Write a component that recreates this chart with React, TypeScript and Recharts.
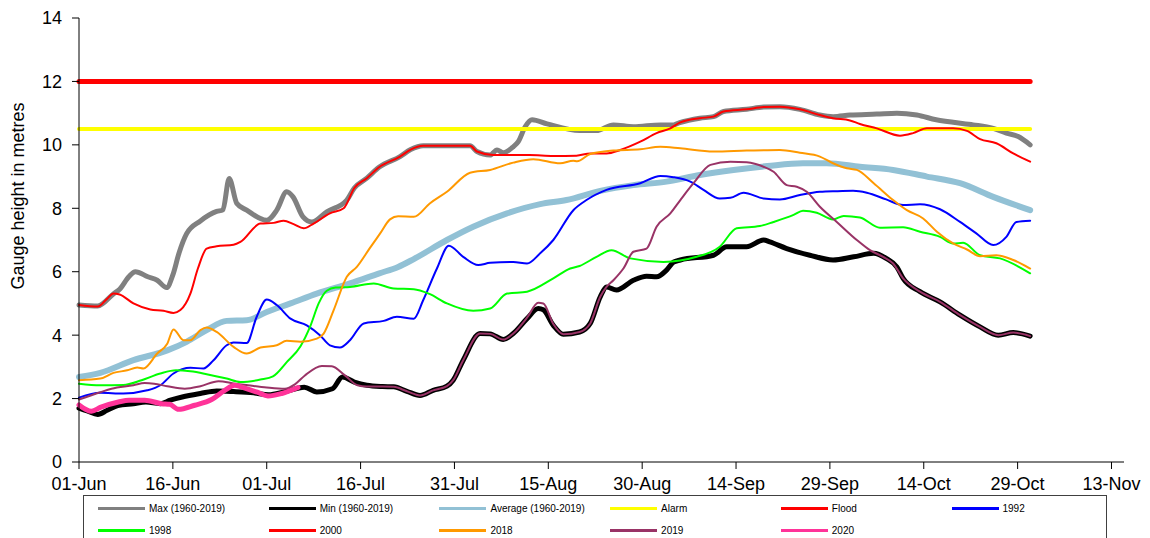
import React from 'react';
import { LineChart, Line, XAxis, YAxis } from 'recharts';

// day 0 = 01-Jun
const tickDays = [0, 15, 30, 45, 60, 75, 90, 105, 120, 135, 150, 165];
const tickLabels = ['01-Jun', '16-Jun', '01-Jul', '16-Jul', '31-Jul', '15-Aug', '30-Aug', '14-Sep', '29-Sep', '14-Oct', '29-Oct', '13-Nov'];
const yTicks = [0, 2, 4, 6, 8, 10, 12, 14];

const maxSeries: [number, number][] = [
  [0, 4.95], [3, 4.92], [5.5, 5.3], [6.5, 5.45], [8, 5.85], [9, 6.0], [11, 5.84], [12.5, 5.73], [14, 5.5], [15, 5.9],
  [16, 6.6], [17.2, 7.2], [19.4, 7.6], [22, 7.9], [23, 7.95], [24, 8.94], [25.2, 8.16], [26.8, 7.94], [30, 7.62],
  [31.6, 7.94], [33.2, 8.52], [34.2, 8.36], [35.8, 7.73], [37.2, 7.57], [39.6, 7.89], [42.8, 8.26], [44, 8.64],
  [46, 8.95], [48, 9.3], [51.3, 9.63], [53, 9.85], [55, 9.97], [62.5, 9.97], [63.6, 9.79], [65.7, 9.68], [66.8, 9.84],
  [67.8, 9.75], [69.4, 9.94], [70.2, 10.1], [71.3, 10.57], [72.4, 10.79], [74.8, 10.66], [80, 10.45], [82.7, 10.45],
  [85.4, 10.63], [88.6, 10.57], [92.9, 10.63], [95, 10.63], [96, 10.7], [99.2, 10.84], [101.4, 10.89], [103, 11.05],
  [106.7, 11.12], [109.4, 11.19], [112, 11.2], [115.2, 11.12], [118.4, 10.94], [120.5, 10.89], [123.2, 10.94],
  [127.5, 10.97], [130.7, 11.0], [133.9, 10.94], [137, 10.79], [139.7, 10.71], [142.9, 10.63], [146.1, 10.52],
  [148.2, 10.37], [150.1, 10.26], [152, 10.0],
];

const minSeries: [number, number][] = [
  [0, 1.7], [1.3, 1.61], [3, 1.5], [4.5, 1.63], [6.2, 1.78], [8.7, 1.84], [10.7, 1.89], [13, 1.84], [14.6, 1.95],
  [16.5, 2.05], [19.4, 2.16], [22, 2.24], [24.7, 2.22], [27.9, 2.18], [30.3, 2.12], [32.8, 2.21], [36, 2.36], [38, 2.21],
  [40.5, 2.31], [42.1, 2.68], [44, 2.52], [46, 2.42], [48.5, 2.38], [50.3, 2.37], [52.4, 2.23], [54.5, 2.1], [56.6, 2.26],
  [58.8, 2.39], [59.8, 2.58], [61.4, 3.21], [64.1, 4.05], [65.7, 4.04], [67.8, 3.86], [69.4, 4.05], [71.6, 4.52],
  [73.4, 4.84], [74.2, 4.8], [75.8, 4.31], [77.4, 4.03], [80, 4.1], [81.7, 4.37], [83.3, 5.21], [84.3, 5.52], [85.9, 5.42],
  [88.6, 5.73], [90.7, 5.86], [92.3, 5.84], [93.9, 6.05], [95, 6.3], [96.1, 6.37], [101.4, 6.52], [103.5, 6.79],
  [106.7, 6.79], [109.4, 7.0], [110.4, 6.94], [113.1, 6.73], [116.8, 6.52], [120.5, 6.37], [123.8, 6.47], [127, 6.58],
  [129, 6.42], [130.7, 6.15], [131.7, 5.79], [134.4, 5.37], [137.6, 5.05], [140.8, 4.63], [144, 4.26], [146.9, 4.0],
  [149.3, 4.08], [152, 3.97],
];

const averageSeries: [number, number][] = [
  [0, 2.68], [3.4, 2.81], [8.7, 3.21], [14.1, 3.52], [17.2, 3.79], [20.4, 4.16], [23.6, 4.45], [26.8, 4.47], [30, 4.73],
  [33.8, 5.0], [38, 5.31], [43.3, 5.63], [48, 5.95], [51, 6.15], [53.5, 6.4], [58.8, 7.0], [63, 7.42], [68.4, 7.84],
  [73.7, 8.13], [77.9, 8.26], [83.3, 8.55], [88.6, 8.73], [93.9, 8.84], [99.2, 9.05], [104.6, 9.21], [110, 9.33],
  [115.7, 9.42], [119.5, 9.42], [124.8, 9.31], [130.1, 9.21], [135.5, 9.0], [140.8, 8.79], [146.1, 8.36], [152, 7.94],
];

const alarmSeries: [number, number][] = [[0, 10.5], [152, 10.5]];
const floodSeries: [number, number][] = [[0, 12], [152, 12]];

const y1992: [number, number][] = [
  [0, 2.03], [3.4, 2.18], [7.1, 2.16], [10.9, 2.26], [13, 2.42], [15.1, 2.79], [17.8, 2.97], [19.9, 2.95], [21.5, 3.21],
  [23.6, 3.68], [24.7, 3.77], [26.8, 3.75], [28.4, 4.58], [30, 5.12], [31.6, 4.95], [33.8, 4.52], [36.4, 4.31], [38.5, 4.0],
  [40.1, 3.68], [41.7, 3.61], [43.3, 3.84], [45.5, 4.37], [48.7, 4.45], [50.8, 4.58], [53.5, 4.52], [55, 5.1], [57.2, 6.1],
  [59.1, 6.82], [61.4, 6.47], [63.8, 6.21], [65.7, 6.28], [69.4, 6.31], [71.6, 6.26], [73.7, 6.58], [75.8, 7.0], [79, 7.94],
  [81.1, 8.26], [84.3, 8.58], [89.7, 8.79], [92.9, 9.02], [95, 8.98], [97.7, 8.84], [99.8, 8.58], [102.4, 8.31],
  [104.1, 8.33], [106.2, 8.49], [109.4, 8.31], [112, 8.28], [115.2, 8.42], [118.4, 8.52], [121.1, 8.54], [123.7, 8.55],
  [125.9, 8.49], [129, 8.28], [131.7, 8.1], [134.4, 8.13], [137.6, 7.97], [140.8, 7.57], [143.4, 7.21], [146.1, 6.84],
  [148.2, 7.1], [149.8, 7.57], [152, 7.61],
];

const y1998: [number, number][] = [
  [0, 2.47], [3.4, 2.42], [7.1, 2.43], [10, 2.58], [13, 2.79], [15.5, 2.89], [17.8, 2.86], [20.4, 2.77], [23.6, 2.63],
  [25.8, 2.52], [29, 2.6], [31, 2.7], [33.2, 3.15], [35.4, 3.65], [37, 4.3], [38.3, 5.0], [39.6, 5.4], [41, 5.5],
  [43.3, 5.52], [47.1, 5.63], [50.3, 5.47], [53.5, 5.45], [56, 5.3], [58.8, 5.0], [63, 4.77], [65.7, 4.84], [68.4, 5.31],
  [71.6, 5.37], [75.8, 5.79], [78.5, 6.1], [80, 6.18], [82.7, 6.47], [85.1, 6.68], [88.1, 6.42], [93.4, 6.31],
  [98.7, 6.47], [102.4, 6.79], [105.1, 7.37], [108.8, 7.44], [111, 7.57], [114.2, 7.79], [115.7, 7.92], [117.9, 7.86],
  [120.5, 7.65], [122.2, 7.76], [124.8, 7.71], [128, 7.39], [131.7, 7.4], [134.4, 7.26], [137.6, 7.1], [139.7, 6.89],
  [141.3, 6.91], [144, 6.52], [147.2, 6.42], [152, 5.95],
];

const y2000: [number, number][] = [
  [0, 4.95], [3, 4.9], [4.5, 5.15], [5.5, 5.31], [6.5, 5.28], [8.7, 5.0], [11.4, 4.81], [13.5, 4.77], [15.1, 4.7],
  [16.2, 4.79], [17.8, 5.31], [19, 6.1], [20.4, 6.73], [22, 6.8], [24.7, 6.85], [25.8, 6.94], [29, 7.52], [31.1, 7.54],
  [32.7, 7.61], [34.3, 7.5], [35.9, 7.37], [37.5, 7.52], [40.1, 7.84], [42.3, 8.0], [44, 8.64], [46, 8.95], [48, 9.3],
  [51.3, 9.63], [53, 9.85], [55, 9.97], [62.5, 9.97], [63.6, 9.79], [66.2, 9.68], [72, 9.68], [75.8, 9.65], [79.5, 9.66],
  [81.7, 9.73], [84.3, 9.73], [86.5, 9.84], [89.7, 10.1], [92.3, 10.37], [94.5, 10.52], [96, 10.7], [99.2, 10.84],
  [101.4, 10.89], [103, 11.05], [106.7, 11.12], [109.4, 11.19], [112, 11.2], [115.2, 11.12], [118.4, 10.94],
  [120.5, 10.84], [123.2, 10.77], [124.8, 10.66], [127.5, 10.52], [131.2, 10.29], [133.3, 10.37], [135.5, 10.52],
  [139.7, 10.52], [141.9, 10.44], [144, 10.18], [146.6, 10.05], [149.3, 9.73], [152, 9.47],
];

const y2018: [number, number][] = [
  [0, 2.58], [3.4, 2.63], [5.5, 2.81], [7.7, 2.89], [9.3, 2.98], [10.3, 2.95], [12.5, 3.42], [14.1, 3.73], [15.1, 4.18],
  [16.7, 3.84], [17.8, 3.84], [19.4, 4.16], [20.4, 4.24], [22, 4.1], [24.7, 3.63], [26.8, 3.42], [29, 3.61], [31.6, 3.68],
  [33.2, 3.82], [35.4, 3.79], [38, 3.89], [39.1, 4.05], [40.7, 4.79], [42.8, 5.84], [44.4, 6.15], [46.5, 6.75],
  [48.1, 7.2], [49.7, 7.65], [51, 7.75], [53.5, 7.73], [56.1, 8.16], [58.8, 8.52], [62.5, 9.12], [65.7, 9.21],
  [69.4, 9.44], [72.6, 9.55], [76.9, 9.42], [79, 9.5], [79.6, 9.48], [81.7, 9.71], [85.4, 9.82], [89.7, 9.86],
  [92.9, 9.94], [96.1, 9.89], [101.4, 9.79], [106.7, 9.82], [112, 9.84], [115.2, 9.75], [118.4, 9.63], [120.5, 9.42],
  [122.7, 9.26], [124.3, 9.21], [127, 8.79], [130.1, 8.26], [132.3, 7.94], [134.9, 7.68], [137.1, 7.26], [139.7, 6.89],
  [141.9, 6.7], [144, 6.49], [146.6, 6.52], [149.3, 6.37], [152, 6.1],
];

const y2019: [number, number][] = [
  [0, 1.97], [3.4, 2.2], [5.2, 2.31], [8.7, 2.42], [10.5, 2.49], [12, 2.47], [14.1, 2.39], [16.9, 2.31], [19.4, 2.39],
  [22.3, 2.55], [24.9, 2.47], [27, 2.42], [30, 2.35], [32.9, 2.31], [34.5, 2.45], [36.1, 2.73], [38.8, 3.03], [40.4, 3.02],
  [42.5, 2.73], [44.5, 2.42], [46, 2.38], [48.5, 2.38], [50.3, 2.37], [52.4, 2.23], [54.5, 2.1], [56.6, 2.26],
  [58.8, 2.39], [59.8, 2.58], [61.4, 3.21], [64.1, 4.05], [65.7, 4.04], [67.8, 3.86], [69.4, 4.05], [71.6, 4.55],
  [73.4, 5.02], [74.2, 5.0], [75.8, 4.35], [77.4, 4.03], [80, 4.1], [81.7, 4.37], [83.3, 5.21], [84.3, 5.52],
  [85.4, 5.73], [87, 6.1], [88.6, 6.63], [90.7, 6.73], [92.3, 7.42], [94.5, 7.84], [96.1, 8.26], [98.2, 8.79],
  [100.9, 9.37], [104.1, 9.47], [106.7, 9.45], [109.4, 9.31], [111, 9.15], [113.1, 8.73], [114.7, 8.68], [116.3, 8.52],
  [118.4, 8.05], [121.1, 7.57], [124.3, 7.0], [126.4, 6.68], [128.5, 6.47], [130.1, 6.26], [131.7, 5.79], [134.4, 5.37],
  [137.6, 5.05], [140.8, 4.63], [144, 4.26], [146.9, 4.0], [149.3, 4.08], [152, 3.97],
];

const y2020: [number, number][] = [
  [0, 1.8], [2, 1.6], [3.4, 1.72], [6.3, 1.89], [8, 1.95], [10.5, 1.95], [13.2, 1.84], [14.5, 1.82], [15.9, 1.66],
  [18.5, 1.79], [21.2, 1.97], [23.3, 2.26], [24.9, 2.42], [26.5, 2.33], [28.5, 2.2], [30.2, 2.08], [32.4, 2.16], [35, 2.35],
];

const toPoints = (arr: [number, number][]) => arr.map(([day, v]) => ({ day, v }));

const series = [
  { name: 'Max (1960-2019)', pts: maxSeries, color: '#808080', width: 5 },
  { name: 'Min (1960-2019)', pts: minSeries, color: '#000000', width: 5 },
  { name: 'Average (1960-2019)', pts: averageSeries, color: '#92c1d5', width: 6 },
  { name: 'Alarm', pts: alarmSeries, color: '#ffff00', width: 4 },
  { name: 'Flood', pts: floodSeries, color: '#ff0000', width: 5 },
  { name: '1992', pts: y1992, color: '#0000ff', width: 2 },
  { name: '1998', pts: y1998, color: '#00ff00', width: 2 },
  { name: '2000', pts: y2000, color: '#ff0000', width: 2 },
  { name: '2018', pts: y2018, color: '#ff9900', width: 2 },
  { name: '2019', pts: y2019, color: '#993366', width: 2 },
  { name: '2020', pts: y2020, color: '#ff3399', width: 5 },
];

const font = '"Liberation Sans", Arial, sans-serif';

function LegendBox() {
  return (
    <div
      style={{
        position: 'absolute',
        left: 83,
        top: 495,
        width: 1024,
        height: 60,
        border: '1px solid #404040',
        boxSizing: 'border-box',
        fontFamily: font,
        fontSize: 10,
        color: '#000',
      }}
    >
      {series.map((s, i) => {
        const col = i % 6;
        const row = Math.floor(i / 6);
        return (
          <div
            key={s.name}
            style={{
              position: 'absolute',
              left: 14 + col * 170.7,
              top: 6 + row * 22,
              display: 'flex',
              alignItems: 'center',
              height: 12,
              whiteSpace: 'nowrap',
            }}
          >
            <span style={{ display: 'inline-block', width: 47, height: 3, background: s.color, marginRight: 4 }} />
            <span>{s.name}</span>
          </div>
        );
      })}
    </div>
  );
}

export default function App() {
  return (
    <div style={{ position: 'absolute', left: 0, top: 0, width: 1150, height: 538, overflow: 'hidden', background: '#fff' }}>
      <LineChart width={1150} height={538} margin={{ top: 18, right: 26, left: 0, bottom: 46 }}>
        <XAxis
          type="number"
          dataKey="day"
          domain={[0, 167]}
          ticks={tickDays}
          tickFormatter={(d: number) => tickLabels[tickDays.indexOf(d)]}
          allowDuplicatedCategory={false}
          height={30}
          tickSize={7}
          tickMargin={8}
          stroke="#000"
          tick={{ fill: '#000', fontSize: 18, fontFamily: font }}
          interval={0}
        />
        <YAxis
          type="number"
          domain={[0, 14]}
          ticks={yTicks}
          width={79}
          tickSize={7}
          tickMargin={10}
          stroke="#000"
          tick={{ fill: '#000', fontSize: 18, fontFamily: font }}
          interval={0}
          label={{
            content: () => (
              <text
                x={18}
                y={196}
                transform="rotate(-90 18 196)"
                textAnchor="middle"
                dominantBaseline="central"
                fontSize={18}
                fontFamily={font}
                fill="#000"
              >
                Gauge height in metres
              </text>
            ),
          }}
        />
        {series.map((s) => (
          <Line
            key={s.name}
            data={toPoints(s.pts)}
            dataKey="v"
            name={s.name}
            type="monotone"
            stroke={s.color}
            strokeWidth={s.width}
            strokeLinecap="round"
            strokeLinejoin="round"
            dot={false}
            activeDot={false}
            isAnimationActive={false}
          />
        ))}
      </LineChart>
      <LegendBox />
    </div>
  );
}
